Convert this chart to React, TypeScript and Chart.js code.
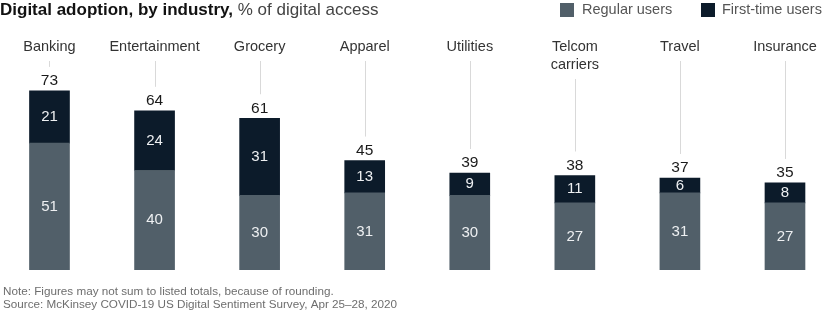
import React, { useEffect, useRef } from "react";
import { Chart, registerables } from "chart.js";

Chart.register(...registerables);

const categories: string[][] = [
  ["Banking"],
  ["Entertainment"],
  ["Grocery"],
  ["Apparel"],
  ["Utilities"],
  ["Telcom", "carriers"],
  ["Travel"],
  ["Insurance"],
];
const regularUsers = [51, 40, 30, 31, 30, 27, 31, 27];
const firstTimeUsers = [21, 24, 31, 13, 9, 11, 6, 8];
const totals = [73, 64, 61, 45, 39, 38, 37, 35];

const REGULAR_COLOR = "#515f69";
const FIRST_COLOR = "#0c1b2a";
const FONT = '"Liberation Sans", Arial, sans-serif';

const overlayPlugin = {
  id: "overlay",
  afterDraw(chart: any) {
    const ctx: CanvasRenderingContext2D = chart.ctx;
    const xs = chart.scales.x;
    ctx.save();
    // Title
    ctx.textBaseline = "middle";
    ctx.textAlign = "left";
    ctx.fillStyle = "#111";
    ctx.font = `bold 17px ${FONT}`;
    const boldPart = "Digital adoption, by industry,";
    ctx.fillText(boldPart, 0, 10);
    const bw = ctx.measureText(boldPart + " ").width;
    ctx.font = `17px ${FONT}`;
    ctx.fillStyle = "#444";
    ctx.fillText("% of digital access", bw, 10);

    // Legend
    ctx.font = `14.5px ${FONT}`;
    ctx.fillStyle = REGULAR_COLOR;
    ctx.fillRect(560, 3, 14, 14);
    ctx.fillStyle = "#555";
    ctx.fillText(chart.data.datasets[0].label, 582, 10);
    ctx.fillStyle = FIRST_COLOR;
    ctx.fillRect(701, 3, 14, 14);
    ctx.fillStyle = "#555";
    ctx.fillText(chart.data.datasets[1].label, 722, 10);

    // Categories, leader lines, totals, inner labels
    const metaR = chart.getDatasetMeta(0);
    const metaF = chart.getDatasetMeta(1);
    categories.forEach((lines, i) => {
      const x = xs.getPixelForValue(i);
      ctx.textAlign = "center";
      ctx.font = `14.5px ${FONT}`;
      ctx.fillStyle = "#333";
      lines.forEach((t, j) => ctx.fillText(t, x, 47 + j * 18));
      const topEl = metaF.data[i];
      const barTop = topEl.y;
      const totalY = barTop - 10;
      const lineStart = 47 + (lines.length - 1) * 18 + 14;
      const lineEnd = totalY - 14;
      if (lineEnd > lineStart) {
        ctx.strokeStyle = "#d9d9d9";
        ctx.lineWidth = 1;
        ctx.beginPath();
        ctx.moveTo(Math.round(x) + 0.5, lineStart);
        ctx.lineTo(Math.round(x) + 0.5, lineEnd);
        ctx.stroke();
      }
      ctx.font = `15.5px ${FONT}`;
      ctx.fillStyle = "#1a1a1a";
      ctx.fillText(String(totals[i]), x, totalY);

      ctx.font = `15px ${FONT}`;
      ctx.fillStyle = "#eef0f2";
      const r = metaR.data[i];
      ctx.fillText(String(regularUsers[i]), x, (r.y + r.base) / 2);
      ctx.fillText(String(firstTimeUsers[i]), x, (topEl.y + topEl.base) / 2);
    });

    // Notes
    ctx.textAlign = "left";
    ctx.font = `11.7px ${FONT}`;
    ctx.fillStyle = "#6e6e6e";
    ctx.fillText("Note: Figures may not sum to listed totals, because of rounding.", 3, 292);
    ctx.fillText("Source: McKinsey COVID-19 US Digital Sentiment Survey, Apr 25–28, 2020", 3, 305);
    ctx.restore();
  },
};

export default function App() {
  const ref = useRef<HTMLCanvasElement | null>(null);
  useEffect(() => {
    document.body.style.margin = "0";
    const canvas = ref.current!;
    const chart = new Chart(canvas, {
      type: "bar",
      data: {
        datasets: [
          {
            label: "Regular users",
            data: regularUsers.map((v, i) => ({ x: i, y: v })),
            backgroundColor: REGULAR_COLOR,
            stack: "s",
          },
          {
            label: "First-time users",
            data: firstTimeUsers.map((v, i) => ({ x: i, y: v })),
            backgroundColor: FIRST_COLOR,
            stack: "s",
          },
        ] as any,
      },
      options: {
        responsive: false,
        animation: false,
        layout: { padding: { top: 71, bottom: 52, left: 0, right: 0 } },
        datasets: { bar: { barThickness: 40 } } as any,
        scales: {
          x: {
            type: "linear",
            display: false,
            offset: false,
            min: -0.471,
            max: 7.457,
            stacked: true,
          },
          y: { display: false, min: 0, max: 80, stacked: true },
        },
        plugins: { legend: { display: false }, tooltip: { enabled: false }, title: { display: false } },
      },
      plugins: [overlayPlugin],
    });
    return () => chart.destroy();
  }, []);
  return (
    <div style={{ width: 833, height: 322 }}>
      <canvas ref={ref} width={833} height={322} style={{ display: "block" }} />
    </div>
  );
}
